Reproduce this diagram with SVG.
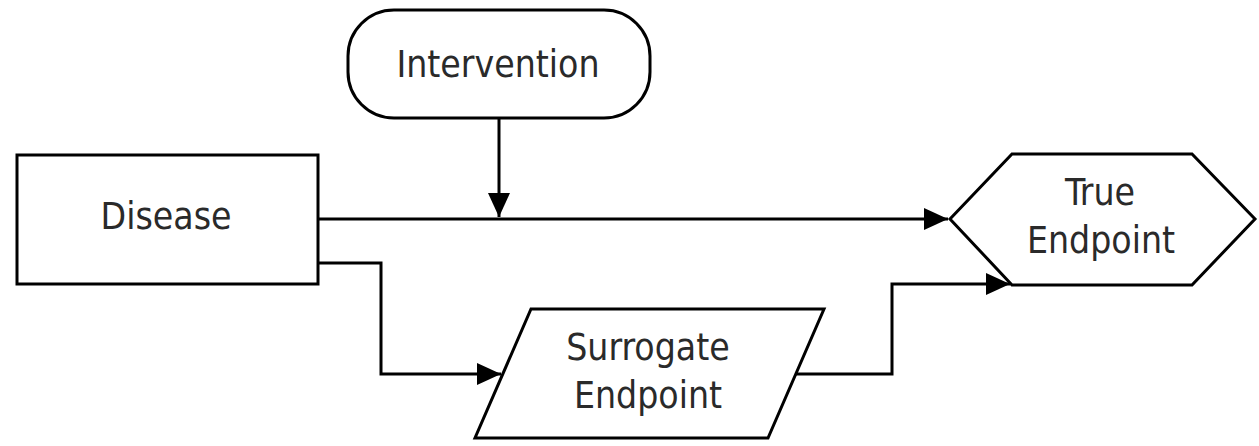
<svg xmlns="http://www.w3.org/2000/svg" width="1259" height="446" viewBox="0 0 1259 446">
  <defs>
    <marker id="arrow" markerUnits="userSpaceOnUse" markerWidth="26" markerHeight="24" refX="24" refY="12" orient="auto">
      <path d="M0,1 L24,12 L0,23 Z" fill="#000"/>
    </marker>
  </defs>
  <style>
    .shape { fill: #fff; stroke: #000; stroke-width: 3; }
    .conn { fill: none; stroke: #000; stroke-width: 3; marker-end: url(#arrow); }
    .lbl { font-family: 'DejaVu Sans Condensed', 'DejaVu Sans', sans-serif; font-stretch: condensed; font-size: 37px; fill: #2a2a2a; text-anchor: middle; }
  </style>
  <rect width="1259" height="446" fill="#fff"/>

  <g id="connectors">
    <path class="conn" d="M499,118 L499,217"/>
    <path class="conn" d="M318,219 L948,219"/>
    <path class="conn" d="M318,263 L381,263 L381,374 L501,374"/>
    <path class="conn" d="M796,374 L892,374 L892,284 L1010,284"/>
  </g>

  <g id="intervention">
    <rect class="shape" x="348" y="10" width="302" height="108" rx="46" ry="46"/>
    <text class="lbl" x="498" y="77">Intervention</text>
  </g>

  <g id="disease">
    <rect class="shape" x="17" y="155" width="301" height="129"/>
    <text class="lbl" x="166" y="229">Disease</text>
  </g>

  <g id="true-endpoint">
    <polygon class="shape" points="950,219 1012,154 1192,154 1255,219 1192,285 1012,285"/>
    <text class="lbl" x="1100" y="205">True</text>
    <text class="lbl" x="1101" y="253">Endpoint</text>
  </g>

  <g id="surrogate-endpoint">
    <polygon class="shape" points="531,309 824,309 768,438 475,438"/>
    <text class="lbl" x="648" y="360">Surrogate</text>
    <text class="lbl" x="648" y="408">Endpoint</text>
  </g>
</svg>
